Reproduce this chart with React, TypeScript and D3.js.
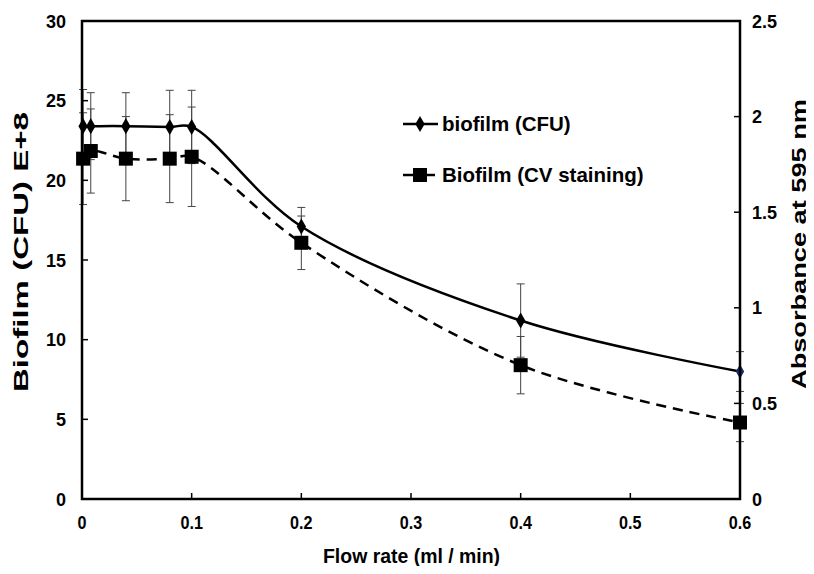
import React from "react";
import * as d3 from "d3";

const flowRates = [0.001, 0.008, 0.04, 0.08, 0.1, 0.2, 0.4, 0.6];
const cfuValues = [23.4, 23.4, 23.4, 23.35, 23.35, 17.1, 11.2, 8.0];
const cfuErrors = [2.3, 2.1, 2.1, 2.3, 2.3, 1.2, 2.3, 1.25];
const cvValues = [1.78, 1.82, 1.78, 1.78, 1.79, 1.34, 0.7, 0.4];
const cvErrors = [0.24, 0.22, 0.22, 0.23, 0.26, 0.14, 0.15, 0.1];
const xTicks = [0, 0.1, 0.2, 0.3, 0.4, 0.5, 0.6];
const leftTicks = [0, 5, 10, 15, 20, 25, 30];
const rightTicks = [0, 0.5, 1, 1.5, 2, 2.5];
const legendLabels = ["biofilm (CFU)", "Biofilm (CV staining)"];

const W = 814;
const H = 574;
const L = 82, R = 740, T = 21, B = 499;
const font = "'Liberation Sans', Arial, sans-serif";

export default function App() {
  const x = d3.scaleLinear().domain([0, 0.6]).range([L, R]);
  const yL = d3.scaleLinear().domain([0, 30]).range([B, T]);
  const yR = d3.scaleLinear().domain([0, 2.5]).range([B, T]);
  const curve = d3.curveCatmullRom.alpha(0.5);
  const cfuLine = d3.line<number>().x((_, i) => x(flowRates[i])).y((d) => yL(d)).curve(curve);
  const cvLine = d3.line<number>().x((_, i) => x(flowRates[i])).y((d) => yR(d)).curve(curve);
  const diamond = d3.symbol().type(d3.symbolDiamond).size(75)();
  const smallDiamond = d3.symbol().type(d3.symbolDiamond).size(60)();
  const errColor = "#444";
  const cap = 4;

  const errBar = (cx: number, y1: number, y2: number, key: string) => (
    <g key={key} stroke={errColor} strokeWidth={1}>
      <line x1={cx} x2={cx} y1={y1} y2={y2} />
      <line x1={cx - cap} x2={cx + cap} y1={y1} y2={y1} />
      <line x1={cx - cap} x2={cx + cap} y1={y2} y2={y2} />
    </g>
  );

  return (
    <div style={{ margin: -8 }}>
      <svg width={W} height={H} style={{ display: "block", background: "#fff" }}>
        {flowRates.map((f, i) =>
          errBar(x(f), yL(cfuValues[i] + cfuErrors[i]), yL(cfuValues[i] - cfuErrors[i]), "ec" + i)
        )}
        {flowRates.map((f, i) =>
          errBar(x(f), yR(cvValues[i] + cvErrors[i]), yR(cvValues[i] - cvErrors[i]), "ev" + i)
        )}
        <path d={cfuLine(cfuValues) || ""} fill="none" stroke="#000" strokeWidth={2.5} />
        <path d={cvLine(cvValues) || ""} fill="none" stroke="#000" strokeWidth={2.5} strokeDasharray="10,7" />
        {flowRates.map((f, i) =>
          i === flowRates.length - 1 ? (
            <path key={"dc" + i} d={smallDiamond || ""} transform={`translate(${x(f)},${yL(cfuValues[i])})`} fill="#1c2b6e" />
          ) : (
            <path key={"dc" + i} d={diamond || ""} transform={`translate(${x(f)},${yL(cfuValues[i])})`} fill="#000" />
          )
        )}
        {flowRates.map((f, i) => (
          <rect key={"sq" + i} x={x(f) - 7} y={yR(cvValues[i]) - 7} width={14} height={14} fill="#000" />
        ))}
        <rect x={L} y={T} width={R - L} height={B - T} fill="none" stroke="#000" strokeWidth={2.5} />
        {xTicks.map((t) => (
          <g key={"xt" + t}>
            <line x1={x(t)} x2={x(t)} y1={B} y2={B - 6} stroke="#000" strokeWidth={1.5} />
            <text transform={`translate(${x(t)},529) scale(0.85,1)`} textAnchor="middle" fontFamily={font} fontWeight="bold" fontSize={19}>
              {String(t)}
            </text>
          </g>
        ))}
        {leftTicks.map((t) => (
          <g key={"lt" + t}>
            <line x1={L} x2={L + 6} y1={yL(t)} y2={yL(t)} stroke="#000" strokeWidth={1.5} />
            <text x={66} y={yL(t) + 6.5} textAnchor="end" fontFamily={font} fontWeight="bold" fontSize={18}>
              {String(t)}
            </text>
          </g>
        ))}
        {rightTicks.map((t) => (
          <g key={"rt" + t}>
            <line x1={R} x2={R - 6} y1={yR(t)} y2={yR(t)} stroke="#000" strokeWidth={1.5} />
            <text x={752} y={yR(t) + 6.5} textAnchor="start" fontFamily={font} fontWeight="bold" fontSize={18}>
              {String(t)}
            </text>
          </g>
        ))}
        <text x={411.5} y={563} textAnchor="middle" fontFamily={font} fontWeight="bold" fontSize={20} textLength={177} lengthAdjust="spacingAndGlyphs">
          Flow rate (ml / min)
        </text>
        <text transform="translate(28,252) rotate(-90)" textAnchor="middle" fontFamily={font} fontWeight="bold" fontSize={20} textLength={280} lengthAdjust="spacingAndGlyphs">
          Biofilm (CFU) E+8
        </text>
        <text transform="translate(806,244) rotate(-90)" textAnchor="middle" fontFamily={font} fontWeight="bold" fontSize={20} textLength={290} lengthAdjust="spacingAndGlyphs">
          Absorbance at 595 nm
        </text>
        <g>
          <line x1={403} x2={438} y1={124} y2={124} stroke="#000" strokeWidth={2.5} />
          <path d={diamond || ""} transform="translate(420,124)" fill="#000" />
          <text x={442} y={131} fontFamily={font} fontWeight="bold" fontSize={20.5}>
            {legendLabels[0]}
          </text>
          <line x1={403} x2={435} y1={175} y2={175} stroke="#000" strokeWidth={2.5} />
          <rect x={413} y={168} width={14} height={14} fill="#000" />
          <text x={442} y={182} fontFamily={font} fontWeight="bold" fontSize={20.5}>
            {legendLabels[1]}
          </text>
        </g>
      </svg>
    </div>
  );
}
